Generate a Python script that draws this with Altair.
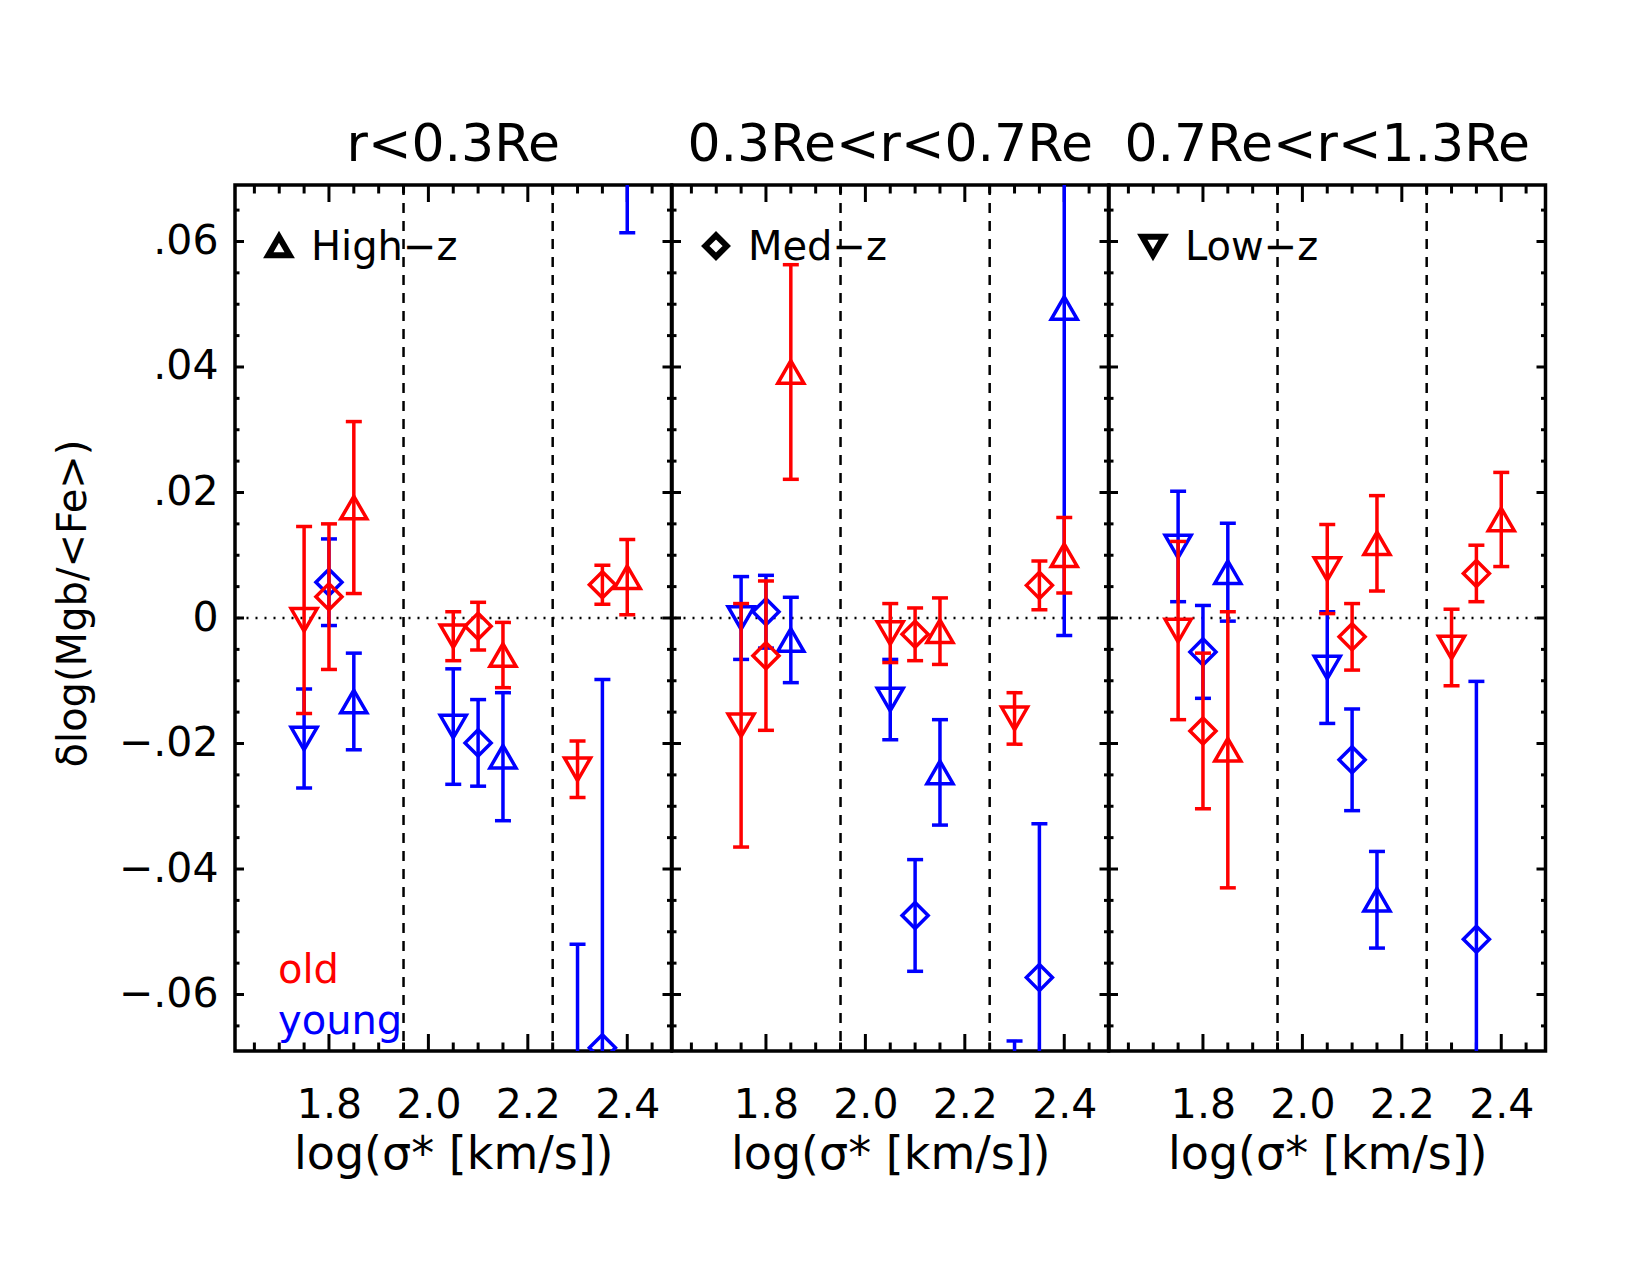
import altair as alt
import pandas as pd

FONT = "DejaVu Sans"

PANEL_TITLES = ["r<0.3Re", "0.3Re<r<0.7Re", "0.7Re<r<1.3Re"]
PANEL_KEYS = ["High−z", "Med−z", "Low−z"]

Z_BINS = ["Low−z", "Med−z", "High−z"]
Z_SHAPES = ["triangle-down", "diamond", "triangle-up"]
AGES = ["young", "old"]
AGE_COLORS = ["#0000ff", "#ff0000"]

# log(sigma*) at which each redshift sample is plotted in the three sigma bins
LOG_SIGMA = {
    "Low−z": [1.75, 2.05, 2.30],
    "Med−z": [1.80, 2.10, 2.35],
    "High−z": [1.85, 2.15, 2.40],
}

# delta log(Mgb/<Fe>) and its error, one dict per radial panel
OLD_DELTA = [
    {"Low−z": [-0.0003, -0.0029, -0.0241], "Med−z": [0.0034, -0.0013, 0.0053], "High−z": [0.0176, -0.0059, 0.0065]},
    {"Low−z": [-0.0171, -0.0024, -0.0160], "Med−z": [-0.0060, -0.0026, 0.0052], "High−z": [0.0392, -0.0021, 0.0100]},
    {"Low−z": [-0.0020, 0.0078, -0.0047], "Med−z": [-0.0180, -0.0030, 0.0071], "High−z": [-0.0210, 0.0119, 0.0157]},
]
OLD_ERR = [
    {"Low−z": [0.0149, 0.0039, 0.0045], "Med−z": [0.0116, 0.0038, 0.0031], "High−z": [0.0137, 0.0052, 0.0060]},
    {"Low−z": [0.0194, 0.0047, 0.0041], "Med−z": [0.0119, 0.0042, 0.0039], "High−z": [0.0171, 0.0053, 0.0060]},
    {"Low−z": [0.0142, 0.0071, 0.0061], "Med−z": [0.0124, 0.0053, 0.0045], "High−z": [0.0220, 0.0076, 0.0075]},
]
YOUNG_DELTA = [
    {"Low−z": [-0.0192, -0.0173, -0.0850], "Med−z": [0.0057, -0.0199, -0.0685], "High−z": [-0.0133, -0.0221, 0.0950]},
    {"Low−z": [0.0000, -0.0130, -0.0800], "Med−z": [0.0010, -0.0474, -0.0573], "High−z": [-0.0035, -0.0246, 0.0494]},
    {"Low−z": [0.0114, -0.0079, None], "Med−z": [-0.0054, -0.0226, -0.0512], "High−z": [0.0073, -0.0449, None]},
]
YOUNG_ERR = [
    {"Low−z": [0.0079, 0.0092, 0.0330], "Med−z": [0.0069, 0.0069, 0.0587], "High−z": [0.0077, 0.0102, 0.0336]},
    {"Low−z": [0.0066, 0.0064, 0.0126], "Med−z": [0.0058, 0.0089, 0.0245], "High−z": [0.0068, 0.0084, 0.0522]},
    {"Low−z": [0.0088, 0.0089, None], "Med−z": [0.0074, 0.0081, 0.0411], "High−z": [0.0078, 0.0077, None]},
]

# sigma bin boundaries
SIGMA_EDGES = [1.95, 2.25]

X_DOMAIN = [1.611, 2.489]
Y_DOMAIN = [-0.069, 0.069]
X_MAJOR = [1.8, 2.0, 2.2, 2.4]
X_MINOR = [1.65, 1.70, 1.75, 1.85, 1.90, 1.95, 2.05, 2.10, 2.15, 2.25, 2.30, 2.35, 2.45]
Y_MAJOR = [-0.06, -0.04, -0.02, 0.0, 0.02, 0.04, 0.06]
Y_MINOR = [-0.065, -0.055, -0.05, -0.045, -0.035, -0.03, -0.025, -0.015, -0.01, -0.005,
           0.005, 0.01, 0.015, 0.025, 0.03, 0.035, 0.045, 0.05, 0.055, 0.065]

W, H = 436.5, 866

rows = []
for p in range(3):
    for age, vals, errs in (("young", YOUNG_DELTA, YOUNG_ERR), ("old", OLD_DELTA, OLD_ERR)):
        for z in Z_BINS:
            for xv, d, e in zip(LOG_SIGMA[z], vals[p][z], errs[p][z]):
                if d is None:
                    continue
                rows.append({"panel": p, "age": age, "zbin": z, "x": xv,
                             "delta": d, "lo": d - e, "hi": d + e})
df = pd.DataFrame(rows)

xs = alt.Scale(domain=X_DOMAIN, nice=False, zero=False)
ys = alt.Scale(domain=Y_DOMAIN, nice=False, zero=False)
color_scale = alt.Scale(domain=AGES, range=AGE_COLORS)
shape_scale = alt.Scale(domain=Z_BINS, range=Z_SHAPES)

x_axis = alt.Axis(values=X_MAJOR, format=".1f", ticks=False, tickSize=0, domain=False,
                  grid=False, labelFont=FONT, labelFontSize=41, labelColor="black",
                  labelPadding=34, labelOverlap=False, labelFlush=False,
                  title="log(σ* [km/s])", titleFont=FONT, titleFontSize=46,
                  titleFontWeight="normal", titleColor="black", titlePadding=7)

y_axis = alt.Axis(values=Y_MAJOR, ticks=False, tickSize=0, domain=False, grid=False,
                  labelExpr="datum.value == 0 ? '0' : replace(format(datum.value, '.2f'), '0.', '.')",
                  labelFont=FONT, labelFontSize=41, labelColor="black", labelPadding=17,
                  labelOverlap=False, labelFlush=False,
                  title="δlog(Mgb/<Fe>)", titleFont=FONT, titleFontSize=40,
                  titleFontWeight="normal", titleColor="black",
                  titleX=-142, titleY=418, titleAngle=-90, titleBaseline="bottom",
                  titleAlign="center")


def panel(p):
    yax = y_axis if p == 0 else None

    def X(field):
        return alt.X(field, type="quantitative", scale=xs, axis=x_axis)

    def Y(field):
        return alt.Y(field, type="quantitative", scale=ys, axis=yax)

    layers = []
    # zero line and sigma bin boundaries
    layers.append(alt.Chart(pd.DataFrame({"y": [0.0]})).mark_rule(
        color="black", strokeWidth=2.5, strokeDash=[2, 7]).encode(y=Y("y")))
    layers.append(alt.Chart(pd.DataFrame({"x": SIGMA_EDGES})).mark_rule(
        color="black", strokeWidth=2.5, strokeDash=[10, 8]).encode(x=X("x")))

    # inward ticks on all four sides
    for vals, ln in ((X_MAJOR, 17), (X_MINOR, 8.5)):
        tdf = pd.DataFrame({"t": vals})
        layers.append(alt.Chart(tdf).mark_rule(color="black", strokeWidth=3).encode(
            x=X("t"), y=alt.value(H), y2=alt.value(H - ln)))
        layers.append(alt.Chart(tdf).mark_rule(color="black", strokeWidth=3).encode(
            x=X("t"), y=alt.value(0), y2=alt.value(ln)))
    for vals, ln in ((Y_MAJOR, 9), (Y_MINOR, 4.5)):
        tdf = pd.DataFrame({"t": vals})
        layers.append(alt.Chart(tdf).mark_rule(color="black", strokeWidth=3).encode(
            y=Y("t"), x=alt.value(0), x2=alt.value(ln)))
        layers.append(alt.Chart(tdf).mark_rule(color="black", strokeWidth=3).encode(
            y=Y("t"), x=alt.value(W), x2=alt.value(W - ln)))

    # measurements: young first, old drawn on top
    for age in AGES:
        sub = df[(df.panel == p) & (df.age == age)]
        base = alt.Chart(sub)
        col = alt.Color("age:N", scale=color_scale, legend=None)
        layers.append(base.mark_rule(strokeWidth=3.5, clip=True).encode(
            x=X("x"), y=Y("lo"), y2="hi", color=col))
        layers.append(base.transform_fold(["lo", "hi"], as_=["end", "yv"]).mark_tick(
            orient="horizontal", size=16, thickness=3.5, clip=True, opacity=1).encode(
            x=X("x"), y=Y("yv:Q"), color=col))
        layers.append(base.mark_point(filled=False, size=680, strokeWidth=3.5,
                                      opacity=1, clip=True).encode(
            x=X("x"), y=Y("delta"), color=col,
            shape=alt.Shape("zbin:N", scale=shape_scale, legend=None)))

    # sample key
    key = pd.DataFrame({"zbin": [PANEL_KEYS[p]]})
    layers.append(alt.Chart(key).mark_point(filled=False, size=460, strokeWidth=6,
                                            color="black", opacity=1).encode(
        x=alt.value(44), y=alt.value(61),
        shape=alt.Shape("zbin:N", scale=shape_scale, legend=None)))
    layers.append(alt.Chart(key).mark_text(align="left", baseline="alphabetic",
                                           font=FONT, fontSize=40, color="black").encode(
        x=alt.value(76), y=alt.value(75), text="zbin:N"))

    if p == 0:
        for age, yy in (("old", 798), ("young", 849)):
            layers.append(alt.Chart(pd.DataFrame({"age": [age]})).mark_text(
                align="left", baseline="alphabetic", font=FONT, fontSize=40).encode(
                x=alt.value(43), y=alt.value(yy), text="age:N",
                color=alt.Color("age:N", scale=color_scale, legend=None)))

    # radial range heading above the panel
    layers.append(alt.Chart(pd.DataFrame({"label": [PANEL_TITLES[p]]})).mark_text(
        align="center", baseline="alphabetic", font=FONT, fontSize=52,
        color="black").encode(x=alt.value(W / 2), y=alt.value(-24), text="label:N"))

    return alt.layer(*layers).properties(width=W, height=H)


chart = alt.hconcat(panel(0), panel(1), panel(2), spacing=0, bounds="flush").properties(
    padding={"left": 51, "top": 117, "right": 20, "bottom": 20},
    background="white",
).configure_view(stroke="black", strokeWidth=3.5)

chart.save("out.html", embed_options={"renderer": "svg", "actions": False})
